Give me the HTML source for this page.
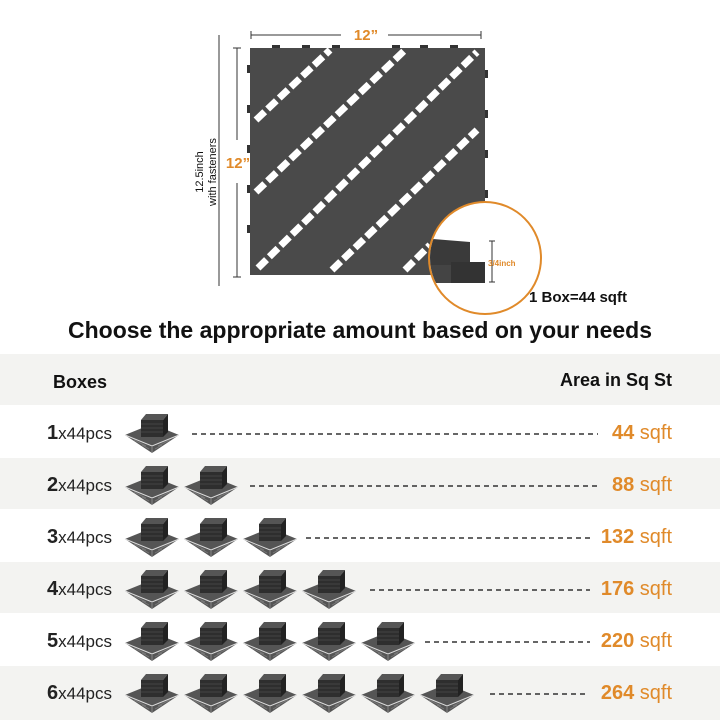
<!DOCTYPE html>
<html><head><meta charset="utf-8"><style>
body{margin:0;background:#fff;}
svg{display:block;font-family:"Liberation Sans",Arial,sans-serif;}
</style></head><body>
<svg width="720" height="720" viewBox="0 0 720 720" xmlns="http://www.w3.org/2000/svg">
<defs>
<g id="ic">
<polygon points="-27,3 0,-8 27,3 0,21" fill="#555"/>
<polyline points="-27,3 0,14 27,3" fill="none" stroke="#ddd" stroke-width="1"/>
<line x1="0" y1="14" x2="0" y2="21" stroke="#888" stroke-width="1"/>
<path d="M-18,8 L-6,14 M-10,13 L-3,17 M18,8 L6,14 M10,13 L3,17" stroke="#777" stroke-width="1"/>
<rect x="-11" y="-12" width="22" height="17" fill="#2e2e2e"/>
<polygon points="-11,-12 -6,-18 16,-18 11,-12" fill="#555"/>
<polygon points="11,-12 16,-18 16,0 11,5" fill="#222"/>
<path d="M-11,-8H11M-11,-4H11M-11,0H11" stroke="#444" stroke-width="1"/>
</g>
<clipPath id="cc"><circle cx="485" cy="258" r="55"/></clipPath>
</defs>
<!-- tile -->
<rect x="250" y="48" width="235" height="227" fill="#4a4a4a"/>
<g stroke="#fff" stroke-width="7" stroke-dasharray="12 4">
<line x1="256" y1="120" x2="330" y2="50"/>
<line x1="256" y1="192" x2="405" y2="50"/>
<line x1="258" y1="268" x2="477" y2="52"/>
<line x1="332" y1="270" x2="477" y2="130"/>
<line x1="405" y1="270" x2="430" y2="245"/>
</g>
<g fill="#333">
<rect x="272" y="45" width="8" height="3"/><rect x="302" y="45" width="8" height="3"/><rect x="332" y="45" width="8" height="3"/><rect x="392" y="45" width="8" height="3"/><rect x="420" y="45" width="8" height="3"/><rect x="450" y="45" width="8" height="3"/>
<rect x="247" y="65" width="3" height="8"/><rect x="247" y="105" width="3" height="8"/><rect x="247" y="145" width="3" height="8"/><rect x="247" y="185" width="3" height="8"/><rect x="247" y="225" width="3" height="8"/>
<rect x="485" y="70" width="3" height="8"/><rect x="485" y="110" width="3" height="8"/><rect x="485" y="150" width="3" height="8"/><rect x="485" y="190" width="3" height="8"/>
</g>
<!-- dimension lines -->
<g stroke="#333" stroke-width="1">
<line x1="251" y1="35" x2="341" y2="35"/><line x1="388" y1="35" x2="481" y2="35"/>
<line x1="251" y1="31" x2="251" y2="39"/><line x1="481" y1="31" x2="481" y2="39"/>
<line x1="237" y1="48" x2="237" y2="140"/><line x1="237" y1="183" x2="237" y2="277"/>
<line x1="233" y1="48" x2="241" y2="48"/><line x1="233" y1="277" x2="241" y2="277"/>
<line x1="219" y1="35" x2="219" y2="286"/>
</g>
<text x="366" y="40" font-size="15" font-weight="bold" fill="#e08a2a" text-anchor="middle">12”</text>
<text x="238" y="168" font-size="15" font-weight="bold" fill="#e08a2a" text-anchor="middle">12”</text>
<g transform="translate(203,172) rotate(-90)" font-size="11" fill="#111" text-anchor="middle">
<text x="0" y="0">12.5inch</text><text x="0" y="13">with fasteners</text></g>
<!-- circle -->
<circle cx="485" cy="258" r="56" fill="#fff" stroke="#e08a2a" stroke-width="2"/>
<g clip-path="url(#cc)">
<polygon points="420,238 470,242 470,265 420,265" fill="#3a3a3a"/>
<rect x="420" y="265" width="31" height="18" fill="#444"/>
<rect x="451" y="262" width="34" height="21" fill="#333"/>
</g>
<path d="M489,241H495M492,241V282M489,282H495" stroke="#333" fill="none"/>
<text x="488" y="266" font-size="8" font-weight="bold" fill="#e08a2a">3/4inch</text>
<text x="529" y="302" font-size="15" font-weight="bold" fill="#111">1 Box=44 sqft</text>
<text x="360" y="338" font-size="23" font-weight="bold" fill="#111" text-anchor="middle">Choose the appropriate amount based on your needs</text>
<!-- table -->
<rect x="0" y="354" width="720" height="51" fill="#f3f3f1"/>
<text x="53" y="388" font-size="18" font-weight="bold" fill="#111">Boxes</text>
<text x="672" y="386" font-size="18" font-weight="bold" fill="#111" text-anchor="end">Area in Sq St</text>
<rect x="0" y="458" width="720" height="51" fill="#f3f3f1"/>
<rect x="0" y="562" width="720" height="51" fill="#f3f3f1"/>
<rect x="0" y="666" width="720" height="54" fill="#f3f3f1"/>
<g font-size="17" fill="#222">
<text x="47" y="439"><tspan font-weight="bold" font-size="20">1</tspan>x44pcs</text>
<text x="47" y="491"><tspan font-weight="bold" font-size="20">2</tspan>x44pcs</text>
<text x="47" y="543"><tspan font-weight="bold" font-size="20">3</tspan>x44pcs</text>
<text x="47" y="595"><tspan font-weight="bold" font-size="20">4</tspan>x44pcs</text>
<text x="47" y="647"><tspan font-weight="bold" font-size="20">5</tspan>x44pcs</text>
<text x="47" y="699"><tspan font-weight="bold" font-size="20">6</tspan>x44pcs</text>
</g>
<g font-size="20" fill="#e08a2a" text-anchor="end">
<text x="672" y="439"><tspan font-weight="bold">44</tspan> sqft</text>
<text x="672" y="491"><tspan font-weight="bold">88</tspan> sqft</text>
<text x="672" y="543"><tspan font-weight="bold">132</tspan> sqft</text>
<text x="672" y="595"><tspan font-weight="bold">176</tspan> sqft</text>
<text x="672" y="647"><tspan font-weight="bold">220</tspan> sqft</text>
<text x="672" y="699"><tspan font-weight="bold">264</tspan> sqft</text>
</g>
<g stroke="#333" stroke-width="1.5" stroke-dasharray="5 4">
<line x1="192" y1="434" x2="598" y2="434"/>
<line x1="250" y1="486" x2="598" y2="486"/>
<line x1="306" y1="538" x2="590" y2="538"/>
<line x1="370" y1="590" x2="590" y2="590"/>
<line x1="425" y1="642" x2="590" y2="642"/>
<line x1="490" y1="694" x2="588" y2="694"/>
</g>
<use href="#ic" x="152" y="432"/>
<use href="#ic" x="152" y="484"/><use href="#ic" x="211" y="484"/>
<use href="#ic" x="152" y="536"/><use href="#ic" x="211" y="536"/><use href="#ic" x="270" y="536"/>
<use href="#ic" x="152" y="588"/><use href="#ic" x="211" y="588"/><use href="#ic" x="270" y="588"/><use href="#ic" x="329" y="588"/>
<use href="#ic" x="152" y="640"/><use href="#ic" x="211" y="640"/><use href="#ic" x="270" y="640"/><use href="#ic" x="329" y="640"/><use href="#ic" x="388" y="640"/>
<use href="#ic" x="152" y="692"/><use href="#ic" x="211" y="692"/><use href="#ic" x="270" y="692"/><use href="#ic" x="329" y="692"/><use href="#ic" x="388" y="692"/><use href="#ic" x="447" y="692"/>
</svg>
</body></html>
